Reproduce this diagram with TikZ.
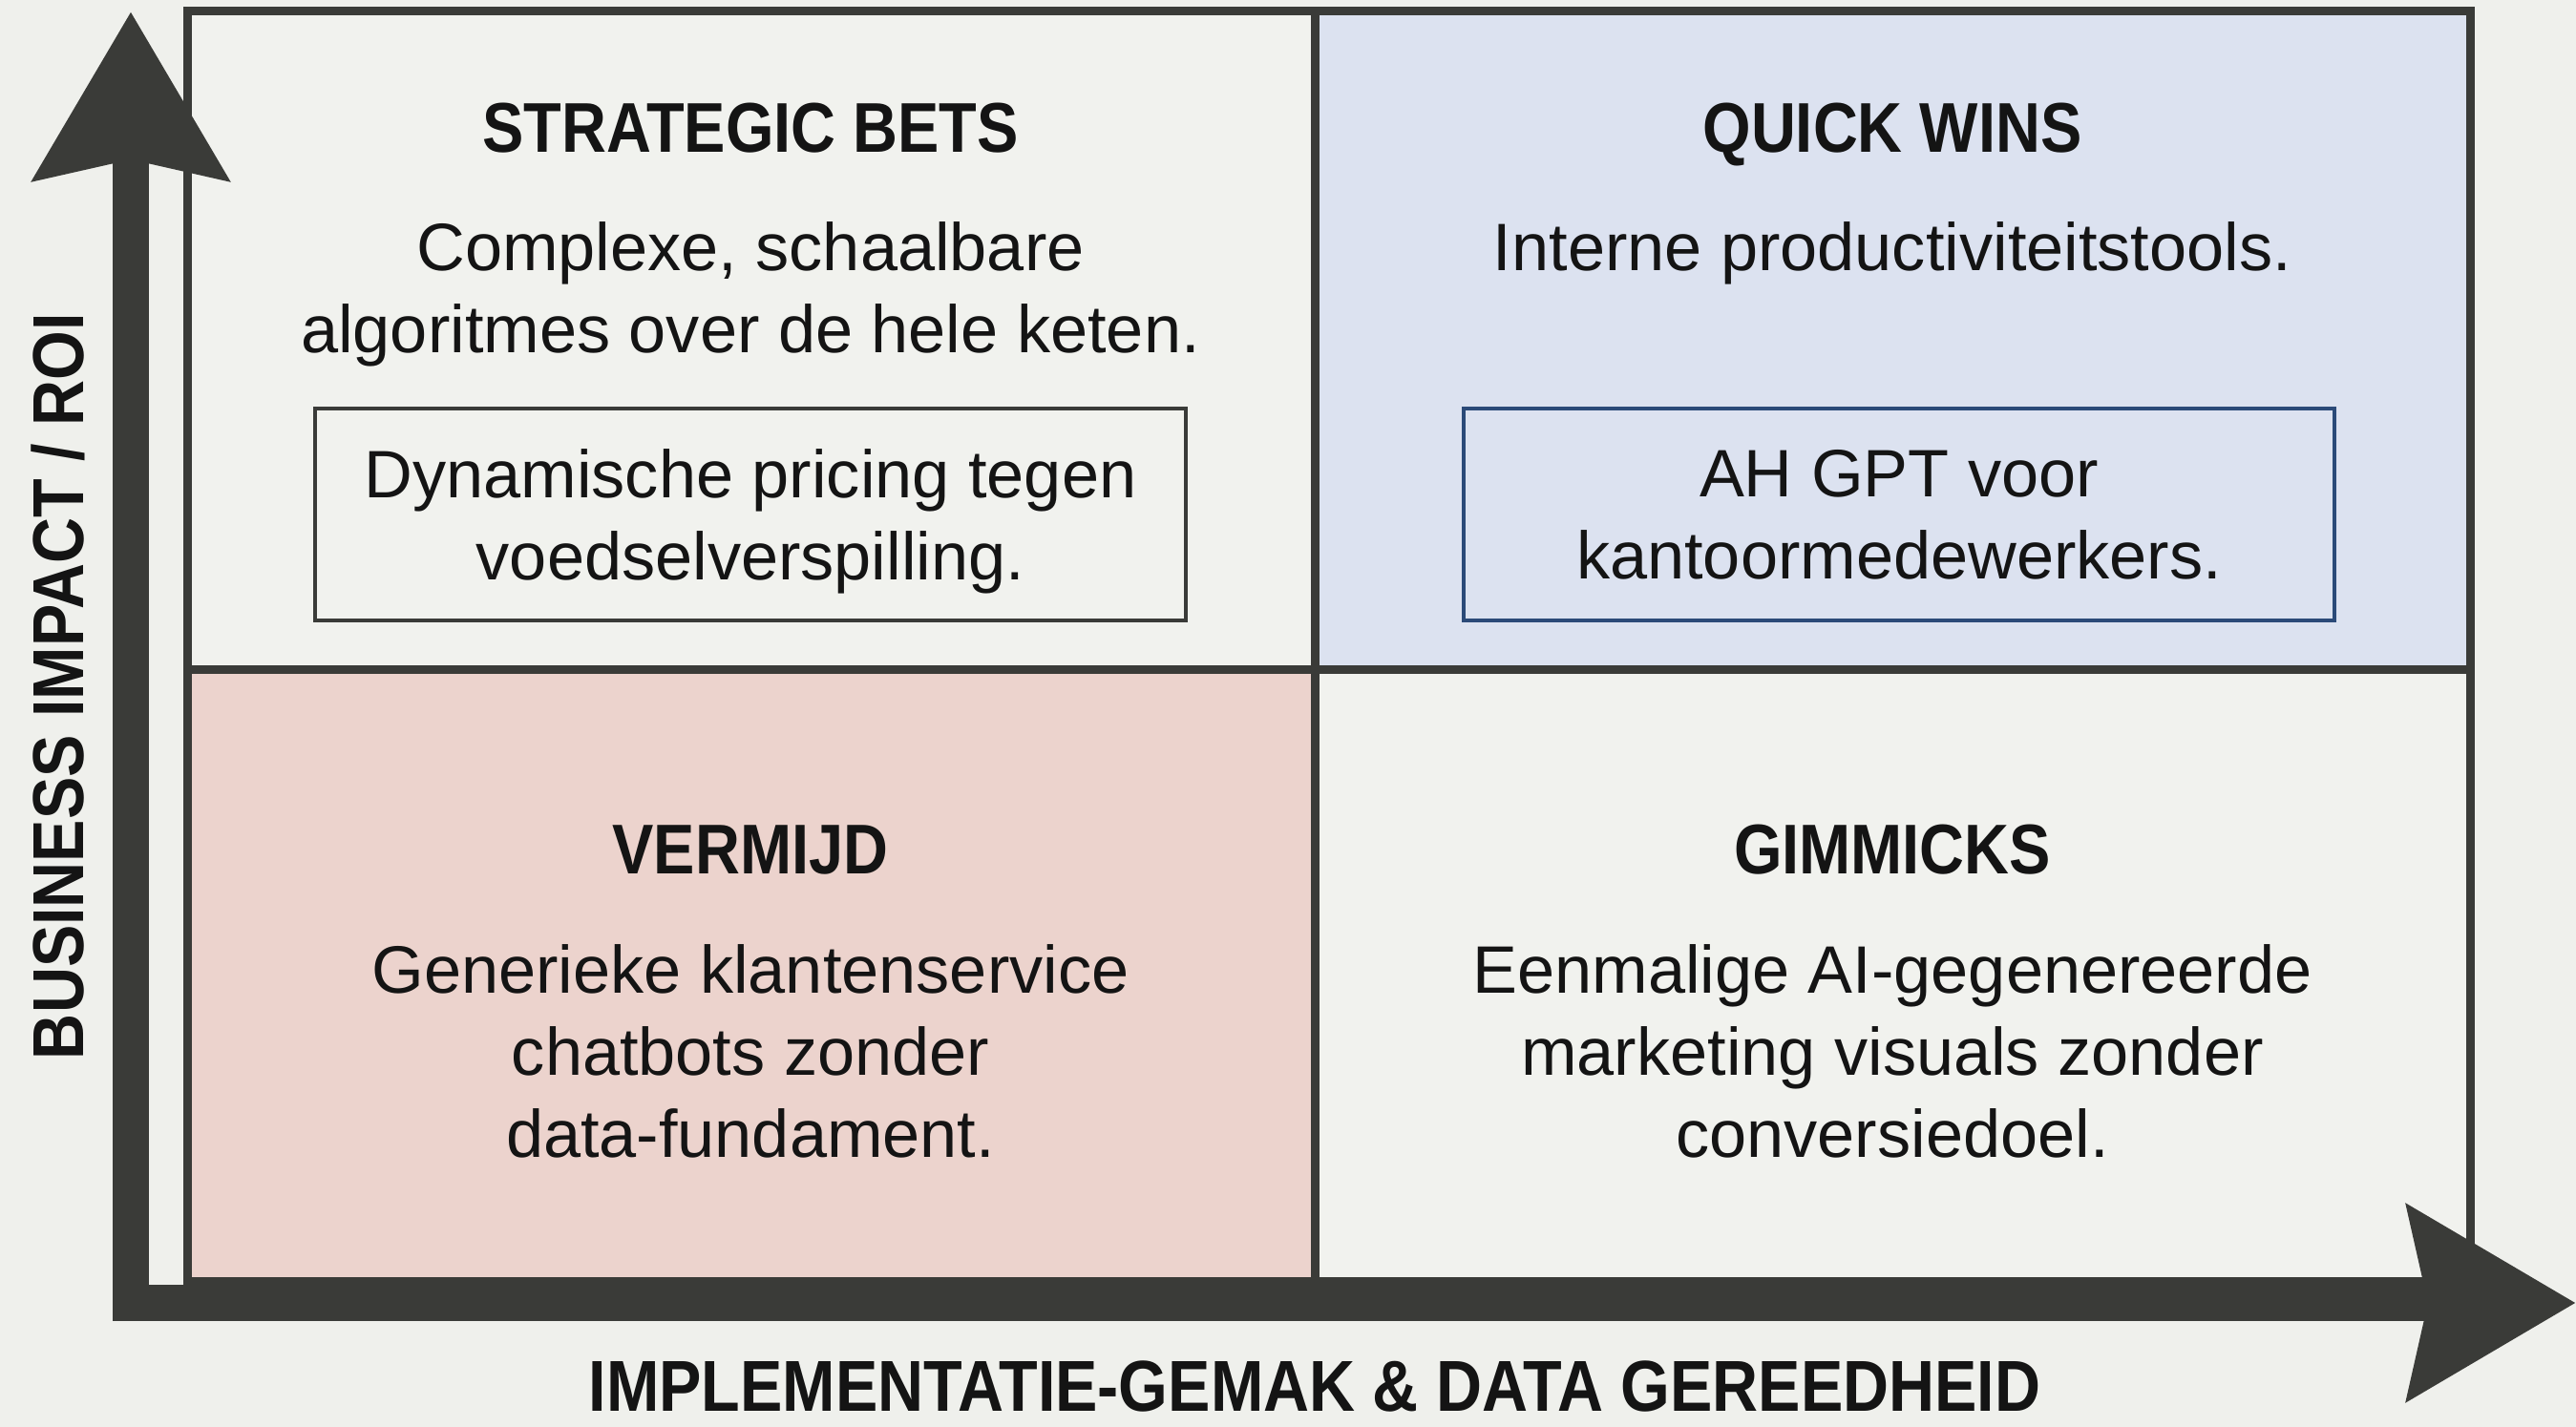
\documentclass[tikz,border=0pt]{standalone}
\usepackage{fontspec}
\setmainfont{Liberation Sans}
\newfontfamily\headfont[FakeStretch=0.88]{Liberation Sans}
\usetikzlibrary{arrows.meta}
\definecolor{bgcol}{HTML}{EFF0EC}
\definecolor{plaincol}{HTML}{F1F2EE}
\definecolor{bluecol}{HTML}{DCE2F0}
\definecolor{pinkcol}{HTML}{ECD3CD}
\definecolor{linecol}{HTML}{3A3B38}
\definecolor{navycol}{HTML}{2B4A78}
\definecolor{inkcol}{HTML}{141414}
\tikzset{bigtip/.tip={Stealth[length=17.5mm,width=20mm,inset=2mm]}}
\begin{document}
\begin{tikzpicture}
  \tikzstyle{axis}=[draw=linecol, line width=0.38cm, line join=miter, bigtip-bigtip]
  \tikzstyle{gridline}=[draw=linecol, line width=0.09cm]
  \tikzstyle{head}=[font=\headfont\bfseries\fontsize{21}{25}\selectfont, text=inkcol, inner sep=0pt, text depth=0pt]
  \tikzstyle{axislabel}=[font=\headfont\bfseries\fontsize{21.5}{25}\selectfont, text=inkcol, inner sep=0pt, text depth=0pt]
  \tikzstyle{body}=[font=\fontsize{20}{24.5}\selectfont, align=center, text=inkcol, inner sep=0pt, text depth=0pt]
  \tikzstyle{example}=[body, draw, line width=0.04cm, minimum width=9.12cm, minimum height=2.22cm]
  \fill[bgcol] (0,0) rectangle (26.98,14.95);
  \useasboundingbox (0,0) rectangle (26.98,14.95);
  \fill[plaincol] (1.96,7.93) rectangle (13.77,14.83);
  \fill[bluecol] (13.77,7.93) rectangle (25.87,14.83);
  \fill[pinkcol] (1.96,1.52) rectangle (13.77,7.93);
  \fill[plaincol] (13.77,1.52) rectangle (25.87,7.93);
  \draw[gridline] (1.96,1.52) rectangle (25.87,14.83);
  \draw[gridline] (13.77,1.52) -- (13.77,14.83);
  \draw[gridline] (1.96,7.93) -- (25.87,7.93);
  \coordinate (origin) at (1.37,1.30);
  \coordinate (ytop) at (1.37,14.83);
  \coordinate (xend) at (26.98,1.30);
  \draw[axis] (ytop) -- (origin) -- (xend);
  \node[head] (bets) at (7.86,13.61) {STRATEGIC BETS};
  \node[body] (betstext) at (7.86,11.94) {Complexe, schaalbare\\algoritmes over de hele keten.};
  \node[example, draw=linecol, fill=plaincol] (betscase) at (7.86,9.56) {Dynamische pricing tegen\\voedselverspilling.};
  \node[head] (wins) at (19.82,13.61) {QUICK WINS};
  \node[body] (winstext) at (19.82,12.37) {Interne productiviteitstools.};
  \node[example, draw=navycol, fill=bluecol] (winscase) at (19.89,9.56) {AH GPT voor\\kantoormedewerkers.};
  \node[head] (avoid) at (7.86,6.05) {VERMIJD};
  \node[body] (avoidtext) at (7.86,3.94) {Generieke klantenservice\\chatbots zonder\\data-fundament.};
  \node[head] (gimmick) at (19.82,6.05) {GIMMICKS};
  \node[body] (gimmicktext) at (19.82,3.94) {Eenmalige AI-gegenereerde\\marketing visuals zonder\\conversiedoel.};
  \node[axislabel] (xlabel) at (13.77,0.43) {IMPLEMENTATIE-GEMAK \& DATA GEREEDHEID};
  \node[axislabel, rotate=90] (ylabel) at (0.60,7.76) {BUSINESS IMPACT / ROI};
\end{tikzpicture}
\end{document}
